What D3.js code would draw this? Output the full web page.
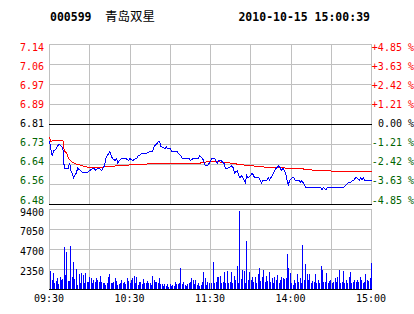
<!DOCTYPE html>
<html>
<head>
<meta charset="utf-8">
<script src="https://cdn.jsdelivr.net/npm/d3@7"></script>
<style>
  body { margin: 0; background: #fff; }
  svg text { font-family: "DejaVu Sans Mono", monospace; font-size: 10px; }
</style>
</head>
<body>
<svg id="chart" width="414" height="314"></svg>
<script>
// ===== data =====
let stockCode = '000599';
let stockName = '青岛双星';
let stampText = '2010-10-15 15:00:39';
let prevClose = 6.81;

let priceLabels = ['7.14', '7.06', '6.97', '6.89', '6.81', '6.73', '6.64', '6.56', '6.48'];
let pctTicks = [4.85, 3.63, 2.42, 1.21, 0, -1.21, -2.42, -3.63, -4.85];
let pctLabels = ['+4.85 %', '+3.63 %', '+2.42 %', '+1.21 %', '0.00 %', '-1.21 %', '-2.42 %', '-3.63 %', '-4.85 %'];
let volTicks = [9400, 7050, 4700, 2350];
let timeLabels = ['09:30', '10:30', '11:30', '14:00', '15:00'];
let timeTickMin = [0, 60, 120, 180, 240];

// minute index (0 = 09:30, 120 = 11:30/13:00, 240 = 15:00) and last price
let priceTimes = [0,2,3,5,6,7,9,10,11,14,15,16,18,20,21,23,25,28,30,33,34,36,37,39,40,41,42,44,45,46,47,49,50,51,52,54,56,57,59,60,62,64,65,66,69,71,72,75,77,78,80,81,82,83,86,87,88,90,91,95,96,98,99,101,104,105,107,109,111,112,114,115,116,118,120,121,123,125,126,128,130,131,133,136,137,138,140,141,142,143,145,146,147,148,150,151,152,153,155,156,158,159,162,163,164,166,167,168,169,171,172,173,174,176,177,178,179,181,182,183,186,187,188,190,191,192,193,195,197,200,201,202,203,204,206,207,209,212,214,216,217,218,219,221,223,224,226,227,228,229,231,232,233,234,235,239,240];
let prices = [6.74,6.68,6.70,6.71,6.72,6.73,6.72,6.71,6.63,6.63,6.65,6.62,6.59,6.61,6.63,6.62,6.61,6.61,6.62,6.63,6.62,6.63,6.63,6.62,6.63,6.64,6.67,6.69,6.70,6.68,6.67,6.66,6.67,6.65,6.66,6.67,6.67,6.67,6.66,6.67,6.66,6.67,6.67,6.68,6.69,6.69,6.69,6.70,6.70,6.72,6.73,6.74,6.74,6.72,6.71,6.72,6.71,6.71,6.70,6.70,6.69,6.68,6.67,6.67,6.67,6.66,6.67,6.67,6.67,6.68,6.67,6.66,6.64,6.64,6.66,6.67,6.67,6.65,6.66,6.66,6.65,6.63,6.63,6.64,6.63,6.61,6.62,6.60,6.59,6.60,6.58,6.57,6.60,6.59,6.60,6.61,6.60,6.59,6.59,6.59,6.57,6.58,6.58,6.59,6.58,6.60,6.61,6.62,6.63,6.64,6.63,6.62,6.63,6.61,6.58,6.56,6.58,6.59,6.59,6.58,6.58,6.57,6.58,6.56,6.55,6.55,6.55,6.55,6.55,6.55,6.55,6.55,6.54,6.55,6.54,6.55,6.55,6.55,6.55,6.55,6.55,6.55,6.55,6.56,6.57,6.57,6.58,6.58,6.59,6.59,6.58,6.59,6.58,6.59,6.58,6.58,6.58,6.58];

// average price line
let avgTimes = [0,1,3,10,11,13,14,17,19,22,28,40,47,62,77,83,112,114,121,131,138,143,148,161,177,188,190,202,217,240];
let avgPrices = [6.758,6.740,6.744,6.744,6.703,6.689,6.671,6.655,6.648,6.644,6.634,6.634,6.638,6.644,6.648,6.650,6.650,6.654,6.657,6.654,6.648,6.644,6.641,6.634,6.630,6.630,6.624,6.620,6.616,6.616];

// volume per minute, morning and afternoon sessions
let volAM = [2115,1058,1841,666,940,1253,548,1449,1058,1175,4896,1645,4387,940,940,5053,1449,3133,1175,2350,470,1763,666,1841,1645,666,1841,783,783,1449,1332,666,1058,862,1332,1058,783,1528,783,666,666,470,666,1371,1723,744,744,783,1253,940,470,627,666,1058,666,783,627,1253,940,666,1058,1332,1528,666,1410,470,783,783,548,1175,666,666,940,666,744,470,1528,1058,783,783,666,1253,548,548,392,548,392,548,274,548,392,470,353,783,627,548,666,2429,548,783,470,392,548,666,783,1253,1058,548,1058,470,666,392,470,783,1959,1332,470,783,666];
let volPM = [744,3212,744,862,1449,1371,1528,744,862,2037,666,2115,666,862,2037,666,1528,1058,2703,744,9166,1136,2233,2115,666,5680,1058,2037,1058,1371,862,1371,744,1763,2429,979,1371,2233,862,1528,979,2037,862,1253,666,1371,1058,1645,666,1058,1371,1253,1136,1253,4113,2429,1919,744,470,1058,666,1763,862,1253,666,5170,1058,2938,1763,1058,1763,666,979,862,1763,666,1058,666,2703,2233,862,862,1919,744,979,1058,744,862,1253,862,1371,2233,744,862,2154,744,1058,666,1371,2037,666,862,1058,862,1058,862,1371,1058,666,862,1763,1058,979,1253,3095];

// ===== layout =====
let left = 49, right = 371;
let priceTop = 44, priceBottom = 204;
let volTop = 209, volBottom = 289;
let gridColor = '#c0c0c0';
let upColor = '#ff0000', downColor = '#006400';

let svg = d3.select('#chart');

let x = d3.scaleLinear().domain([0, 240]).range([left, right]);
let yPct = d3.scaleLinear().domain([-4.85, 4.85]).range([priceBottom, priceTop]);
let y = d3.scaleLinear()
  .domain([prevClose * (1 - 0.0485), prevClose * (1 + 0.0485)])
  .range([priceBottom, priceTop]);
let yVol = d3.scaleLinear().domain([0, 9400]).range([volBottom, volTop]);

function crisp(v) { return Math.round(v) + 0.5; }

// label centres are spread a bit inside the panel like the original
function labelY(v) { return 47.5 + (v - priceTop) * 152.5 / 160; }

let gridMins = d3.range(0, 241, 30);

//======= price panel grid =======//
let grid = svg.append('g').attr('shape-rendering', 'crispEdges');

grid.selectAll('.vgrid')
  .data(gridMins)
  .enter().append('line')
  .attr('x1', d => crisp(x(d))).attr('x2', d => crisp(x(d)))
  .attr('y1', priceTop).attr('y2', priceBottom)
  .attr('stroke', gridColor);

grid.selectAll('.hgrid')
  .data(pctTicks)
  .enter().append('line')
  .attr('x1', left).attr('x2', right + 1)
  .attr('y1', d => crisp(yPct(d))).attr('y2', d => crisp(yPct(d)))
  .attr('stroke', d => (d === 0 || d === -4.85) ? '#000' : gridColor);

//======= volume panel grid =======//
grid.selectAll('.vgrid2')
  .data(gridMins)
  .enter().append('line')
  .attr('x1', d => crisp(x(d))).attr('x2', d => crisp(x(d)))
  .attr('y1', volTop).attr('y2', volBottom)
  .attr('stroke', gridColor);

grid.selectAll('.hgrid2')
  .data(volTicks)
  .enter().append('line')
  .attr('x1', left).attr('x2', right + 1)
  .attr('y1', d => crisp(yVol(d))).attr('y2', d => crisp(yVol(d)))
  .attr('stroke', gridColor);

//======= volume bars =======//
let amIdx = d3.scaleLinear().domain([0, volAM.length - 1]).range([1, 119]);
let pmIdx = d3.scaleLinear().domain([0, volPM.length - 1]).range([121, 240]);
let volData = volAM.map((v, i) => ({ t: amIdx(i), v: v }))
  .concat(volPM.map((v, i) => ({ t: pmIdx(i), v: v })));

svg.append('g')
  .attr('shape-rendering', 'crispEdges')
  .selectAll('rect')
  .data(volData)
  .enter().append('rect')
  .attr('x', d => Math.round(x(d.t)))
  .attr('y', d => Math.round(yVol(d.v)))
  .attr('width', 1)
  .attr('height', d => volBottom - Math.round(yVol(d.v)))
  .attr('fill', '#0000ff');

svg.append('line')
  .attr('shape-rendering', 'crispEdges')
  .attr('x1', left).attr('x2', right + 1)
  .attr('y1', volBottom + 0.5).attr('y2', volBottom + 0.5)
  .attr('stroke', '#000');

//======= price & average lines =======//
let priceData = priceTimes.map((t, i) => ({ t: t, p: prices[i] }));
let avgData = avgTimes.map((t, i) => ({ t: t, p: avgPrices[i] }));

let line = d3.line()
  .x(d => x(d.t) + 0.5)
  .y(d => y(d.p) + 0.5);

svg.append('path')
  .datum(avgData)
  .attr('fill', 'none')
  .attr('stroke', '#ff0000')
  .attr('stroke-width', 1)
  .attr('shape-rendering', 'crispEdges')
  .attr('d', line);

svg.append('path')
  .datum(priceData)
  .attr('fill', 'none')
  .attr('stroke', '#0000ff')
  .attr('stroke-width', 1)
  .attr('shape-rendering', 'crispEdges')
  .attr('d', line);

//======= axis labels =======//
function labelColor(i) {
  if (i < 4) return upColor;
  if (i === 4) return '#000';
  return downColor;
}

svg.append('g').selectAll('text')
  .data(priceLabels)
  .enter().append('text')
  .attr('x', 44)
  .attr('y', (d, i) => labelY(yPct(pctTicks[i])) + 3.5)
  .attr('text-anchor', 'end')
  .attr('fill', (d, i) => labelColor(i))
  .text(d => d);

svg.append('g').selectAll('text')
  .data(pctLabels)
  .enter().append('text')
  .attr('x', 414)
  .attr('y', (d, i) => labelY(yPct(pctTicks[i])) + 3.5)
  .attr('text-anchor', 'end')
  .attr('fill', (d, i) => labelColor(i))
  .text(d => d);

svg.append('g').selectAll('text')
  .data(volTicks)
  .enter().append('text')
  .attr('x', 44)
  .attr('y', (d, i) => yVol(d) + (i === 0 ? 3 : 2.5) + 3.5)
  .attr('text-anchor', 'end')
  .attr('fill', '#000')
  .text(d => d);

svg.append('g').selectAll('text')
  .data(timeLabels)
  .enter().append('text')
  .attr('x', (d, i) => x(timeTickMin[i]))
  .attr('y', 302)
  .attr('text-anchor', 'middle')
  .attr('fill', '#000')
  .text(d => d);

//======= header =======//
svg.append('text')
  .attr('x', 50).attr('y', 21)
  .style('font-size', '11.5px').style('font-weight', 'bold')
  .text(stockCode);

svg.append('text')
  .attr('x', 105).attr('y', 21)
  .style('font-family', '"Noto Sans CJK SC", sans-serif')
  .style('font-size', '12.5px')
  .text(stockName);

svg.append('text')
  .attr('x', 370).attr('y', 21)
  .attr('text-anchor', 'end')
  .style('font-size', '11.5px').style('font-weight', 'bold')
  .text(stampText);
</script>
</body>
</html>
